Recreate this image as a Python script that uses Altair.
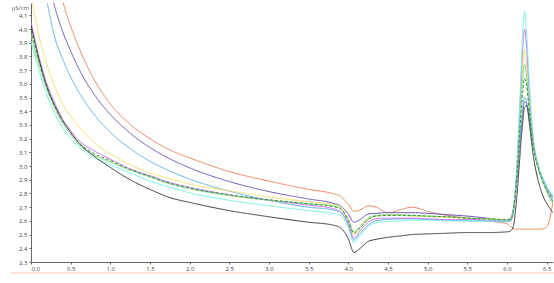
import altair as alt
import pandas as pd

x_vals = [0, 0.1, 0.2, 0.3, 0.4, 0.5, 0.6, 0.8, 1.0, 1.25, 1.5, 1.75, 2.0, 2.5, 3.0, 3.5, 3.8,
          3.9, 4.0, 4.07, 4.15, 4.25, 4.35, 4.5, 4.65, 4.8, 5.0, 5.25, 5.5, 5.75, 6.0,
          6.04, 6.08, 6.12, 6.16, 6.2, 6.22, 6.25, 6.28, 6.33, 6.4, 6.47, 6.52, 6.58]

orange = [6.6, 5.6, 4.98, 4.55, 4.21, 4.02, 3.87, 3.627, 3.454, 3.304, 3.20, 3.118, 3.06, 2.96, 2.89, 2.83, 2.80,
          2.78, 2.72, 2.67, 2.68, 2.71, 2.70, 2.66, 2.68, 2.70, 2.67, 2.64, 2.62, 2.60, 2.58,
          2.56, 2.545, 2.54, 2.54, 2.54, 2.54, 2.54, 2.54, 2.54, 2.54, 2.545, 2.58, 2.74]
purple = [5.06, 4.68, 4.39, 4.16, 3.98, 3.84, 3.714, 3.52, 3.377, 3.24, 3.135, 3.053, 2.987, 2.887, 2.814, 2.76, 2.73,
          2.71, 2.65, 2.59, 2.61, 2.65, 2.655, 2.66, 2.66, 2.66, 2.655, 2.645, 2.635, 2.62, 2.60,
          2.60, 2.66, 2.87, 3.15, 3.40, 3.47, 3.45, 3.35, 3.15, 2.98, 2.88, 2.82, 2.77]
skyblue = [4.8, 4.45, 4.2, 3.937, 3.779, 3.65, 3.542, 3.373, 3.246, 3.127, 3.035, 2.964, 2.905, 2.817, 2.75, 2.70, 2.68,
           2.66, 2.57, 2.46, 2.51, 2.57, 2.60, 2.61, 2.615, 2.615, 2.61, 2.605, 2.60, 2.60, 2.595,
           2.60, 2.67, 2.88, 3.18, 3.43, 3.50, 3.46, 3.36, 3.16, 2.99, 2.89, 2.83, 2.78]
yellow = [4.25, 3.95, 3.74, 3.58, 3.45, 3.36, 3.29, 3.17, 3.09, 3.01, 2.95, 2.91, 2.87, 2.82, 2.775, 2.74, 2.72,
          2.70, 2.61, 2.50, 2.55, 2.61, 2.635, 2.64, 2.64, 2.635, 2.63, 2.625, 2.62, 2.615, 2.61,
          2.62, 2.69, 2.93, 3.35, 3.75, 3.85, 3.72, 3.48, 3.18, 2.98, 2.86, 2.80, 2.74]
magenta = [4.05, 3.80, 3.60, 3.46, 3.34, 3.26, 3.19, 3.11, 3.05, 2.98, 2.93, 2.88, 2.845, 2.79, 2.75, 2.715, 2.69,
           2.67, 2.58, 2.475, 2.53, 2.59, 2.615, 2.62, 2.62, 2.62, 2.615, 2.61, 2.61, 2.605, 2.60,
           2.61, 2.68, 2.93, 3.40, 3.87, 4.00, 3.85, 3.55, 3.20, 2.99, 2.87, 2.81, 2.75]
green = [3.96, 3.74, 3.56, 3.42, 3.31, 3.23, 3.16, 3.08, 3.03, 2.97, 2.92, 2.87, 2.835, 2.785, 2.75, 2.725, 2.71,
         2.69, 2.61, 2.52, 2.56, 2.62, 2.64, 2.645, 2.645, 2.64, 2.635, 2.63, 2.62, 2.615, 2.605,
         2.615, 2.69, 2.92, 3.30, 3.65, 3.74, 3.64, 3.43, 3.16, 2.97, 2.86, 2.79, 2.73]
darkgreen = [3.99, 3.77, 3.58, 3.44, 3.33, 3.245, 3.175, 3.09, 3.04, 2.975, 2.925, 2.875, 2.84, 2.79, 2.755, 2.725, 2.705,
             2.69, 2.60, 2.51, 2.55, 2.61, 2.635, 2.64, 2.64, 2.64, 2.635, 2.63, 2.62, 2.615, 2.61,
             2.61, 2.68, 2.90, 3.25, 3.55, 3.64, 3.58, 3.40, 3.15, 2.97, 2.86, 2.80, 2.74]
cyan = [3.91, 3.70, 3.52, 3.38, 3.28, 3.20, 3.14, 3.06, 3.01, 2.95, 2.89, 2.845, 2.805, 2.75, 2.71, 2.675, 2.655,
        2.64, 2.55, 2.445, 2.49, 2.56, 2.585, 2.595, 2.60, 2.605, 2.605, 2.60, 2.60, 2.60, 2.60,
        2.61, 2.68, 2.95, 3.45, 3.98, 4.13, 3.95, 3.62, 3.22, 3.0, 2.88, 2.82, 2.75]
black = [4.03, 3.78, 3.58, 3.44, 3.33, 3.245, 3.17, 3.07, 2.99, 2.90, 2.83, 2.77, 2.735, 2.675, 2.63, 2.59, 2.57,
         2.55, 2.47, 2.37, 2.40, 2.45, 2.465, 2.48, 2.49, 2.50, 2.505, 2.51, 2.515, 2.515, 2.52,
         2.525, 2.56, 2.75, 3.05, 3.33, 3.43, 3.44, 3.32, 3.08, 2.88, 2.76, 2.71, 2.66]

series = {
    "orange": orange, "purple": purple, "skyblue": skyblue, "yellow": yellow,
    "magenta": magenta, "green": green, "cyan": cyan, "darkgreen": darkgreen, "black": black,
}
names = list(series.keys())
colors = ["#e8845f", "#6a55b5", "#5fb3e6", "#f3e06a", "#c86bf0", "#74dc74", "#74f0e0", "#3d8c3d", "#3a3a3a"]
dashes = {"darkgreen": [3, 2]}

rows = []
for i, n in enumerate(names):
    for xv, yv in zip(x_vals, series[n]):
        rows.append({"series": n, "order": i, "x": xv, "y": yv, "dashed": "d" if n in dashes else "s"})
df = pd.DataFrame(rows)

xaxis = alt.Axis(values=[0, 0.5, 1, 1.5, 2, 2.5, 3, 3.5, 4, 4.5, 5, 5.5, 6, 6.5], format=".1f",
                 labelFontSize=6, labelColor="#444", tickSize=2, tickColor="#666", domainColor="#666",
                 labelPadding=1, grid=False, title=None, labelFont="Open Sans")
yaxis = alt.Axis(values=[round(2.3 + 0.1 * k, 1) for k in range(19)], format=".1f",
                 labelFontSize=6, labelColor="#444", tickSize=2, tickColor="#666", domainColor="#666",
                 labelPadding=2, grid=False, title="µS/cm", titleAngle=0, titleFontSize=6,
                 titleFontWeight="normal", titleColor="#555", titleAlign="left", titleBaseline="middle",
                 titleX=-20, titleY=4, labelFont="Open Sans", titleFont="Open Sans")

lines = alt.Chart(df).mark_line(strokeWidth=1, clip=True, interpolate="monotone").encode(
    x=alt.X("x:Q", scale=alt.Scale(domain=[0, 6.58], nice=False, zero=False), axis=xaxis),
    y=alt.Y("y:Q", scale=alt.Scale(domain=[2.3, 4.19], nice=False, zero=False), axis=yaxis),
    color=alt.Color("series:N", scale=alt.Scale(domain=names, range=colors), legend=None),
    strokeDash=alt.StrokeDash("dashed:N", scale=alt.Scale(domain=["s", "d"], range=[[1, 0], [3, 2]]), legend=None),
    detail="series:N",
    order="order:Q",
)

sep = alt.Chart(pd.DataFrame({"a": [0]})).mark_rule(color="#f6cbb0", strokeWidth=1).encode(
    x=alt.value(-20), x2=alt.value(523), y=alt.value(270)
)

chart = alt.layer(lines, sep).properties(
    width=522, height=259,
    padding={"left": 31, "top": 3, "right": 1, "bottom": 21},
    autosize=alt.AutoSizeParams(type="none"),
).configure_view(stroke=None)

chart.save("out.html", embed_options={"renderer": "svg", "actions": False})
